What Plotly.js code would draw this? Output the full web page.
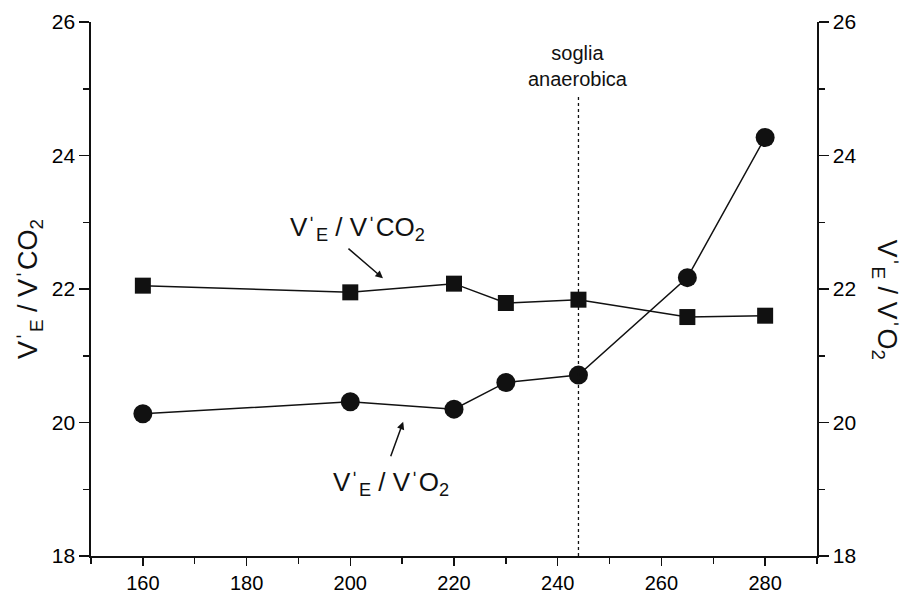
<!DOCTYPE html>
<html>
<head>
<meta charset="utf-8">
<script src="https://cdn.plot.ly/plotly-3.0.1.min.js"></script>
<style>html,body{margin:0;padding:0;background:#fff;}#chart{width:908px;height:593px;}</style>
</head>
<body>
<div id="chart"></div>
<script>
// Work load values (x)
const xCO2 = [160, 200, 220, 230, 244, 265, 280];
const veCO2 = [22.05, 21.95, 22.08, 21.79, 21.84, 21.58, 21.6];
const xO2 = [160, 200, 220, 230, 244, 265, 280];
const veO2 = [20.13, 20.31, 20.2, 20.6, 20.71, 22.17, 24.27];
const thresholdX = 244;
const xTicks = [160, 180, 200, 220, 240, 260, 280];
const yTicks = [18, 20, 22, 24, 26];

const FONT = 'Liberation Sans, Arial, Helvetica, sans-serif';
const ink = '#111';

const traces = [
  {x: xCO2, y: veCO2, mode: 'lines+markers', type: 'scatter',
   line: {color: ink, width: 1.5},
   marker: {symbol: 'square', size: 16, color: ink}},
  {x: xO2, y: veO2, mode: 'lines+markers', type: 'scatter', yaxis: 'y2',
   line: {color: ink, width: 1.5},
   marker: {symbol: 'circle', size: 19, color: ink}}
];

const axisCommon = {
  showline: true, linecolor: ink, linewidth: 1.6, mirror: false,
  ticks: 'outside', ticklen: 10, tickwidth: 1.5, tickcolor: ink,
  showgrid: false, zeroline: false,
  tickfont: {family: FONT, size: 21, color: '#000'}
};

const layout = {
  width: 908, height: 593,
  margin: {l: 91, r: 91, t: 22, b: 37},
  paper_bgcolor: '#fff', plot_bgcolor: '#fff',
  showlegend: false,
  font: {family: FONT, color: ink},
  xaxis: Object.assign({}, axisCommon, {
    range: [150, 290], tickvals: xTicks, ticklen: 8,
    tickfont: {family: FONT, size: 20, color: '#000'},
    minor: {dtick: 10, ticks: 'outside', ticklen: 6, tickwidth: 1.5, tickcolor: ink}
  }),
  yaxis: Object.assign({}, axisCommon, {
    range: [18, 26], tickvals: yTicks,
    minor: {dtick: 1, ticks: 'outside', ticklen: 6, tickwidth: 1.5, tickcolor: ink}
  }),
  yaxis2: Object.assign({}, axisCommon, {
    range: [18, 26], tickvals: yTicks, overlaying: 'y', side: 'right',
    minor: {dtick: 1, ticks: 'outside', ticklen: 6, tickwidth: 1.5, tickcolor: ink}
  }),
  shapes: [
    {type: 'line', xref: 'x', yref: 'y', x0: thresholdX, x1: thresholdX, y0: 18, y1: 24.88,
     line: {color: ink, width: 1.3, dash: 'dot'}}
  ],
  annotations: [
    {xref: 'paper', yref: 'paper', x: -0.084, y: 0.5, xanchor: 'center', yanchor: 'middle',
     text: 'Vˈ<sub>E</sub> / VˈCO<sub>2</sub>',
     textangle: -90, showarrow: false, font: {family: FONT, size: 27, color: ink}},
    {xref: 'paper', yref: 'paper', x: 1.094, y: 0.48, xanchor: 'center', yanchor: 'middle',
     text: 'Vˈ<sub>E</sub> / VˈO<sub>2</sub>',
     textangle: 90, showarrow: false, font: {family: FONT, size: 27, color: ink}},
    {xref: 'x', yref: 'y', x: thresholdX, y: 24.95, text: 'soglia<br>anaerobica',
     showarrow: false, yanchor: 'bottom', font: {family: FONT, size: 20, color: ink}},
    {xref: 'x', yref: 'y', x: 201.3, y: 22.91, xanchor: 'center', yanchor: 'middle',
     text: 'Vˈ<sub>E</sub> / VˈCO<sub>2</sub>',
     showarrow: false, font: {family: FONT, size: 26, color: ink}},
    {xref: 'x', yref: 'y', x: 206.3, y: 22.16, text: '', showarrow: true,
     ax: -36, ay: -31, arrowhead: 2, arrowsize: 1, arrowwidth: 1.5, arrowcolor: ink},
    {xref: 'x', yref: 'y', x: 207.8, y: 19.08, xanchor: 'center', yanchor: 'middle',
     text: 'Vˈ<sub>E</sub> / VˈO<sub>2</sub>',
     showarrow: false, font: {family: FONT, size: 26, color: ink}},
    {xref: 'x', yref: 'y', x: 210.2, y: 20.01, text: '', showarrow: true,
     ax: -13, ay: 36, arrowhead: 2, arrowsize: 1, arrowwidth: 1.5, arrowcolor: ink}
  ]
};

Plotly.newPlot('chart', traces, layout, {displayModeBar: false, staticPlot: true});
</script>
</body>
</html>
